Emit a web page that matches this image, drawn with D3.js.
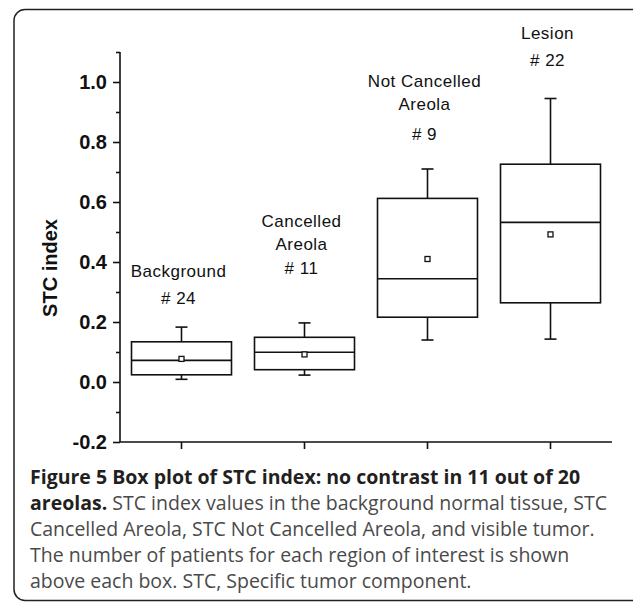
<!DOCTYPE html>
<html>
<head>
<meta charset="utf-8">
<script src="https://cdn.jsdelivr.net/npm/d3@7"></script>
<style>
  body { margin: 0; background: #fff; }
  svg { display: block; }
</style>
</head>
<body>
<div id="chart"></div>
<script>
// data
var categories = ["Background", "Cancelled Areola", "Not Cancelled Areola", "Lesion"];
var groupLabels = [["Background", "# 24"], ["Cancelled", "Areola", "# 11"], ["Not Cancelled", "Areola", "# 9"], ["Lesion", "# 22"]];
var whiskerLow = [0.009, 0.023, 0.140, 0.143];
var q1 = [0.024, 0.041, 0.216, 0.264];
var median = [0.072, 0.099, 0.344, 0.532];
var q3 = [0.134, 0.149, 0.612, 0.726];
var whiskerHigh = [0.183, 0.197, 0.710, 0.945];
var means = [0.077, 0.092, 0.410, 0.492];
var yMajorTicks = [-0.2, 0.0, 0.2, 0.4, 0.6, 0.8, 1.0];
var yMinorTicks = [-0.1, 0.1, 0.3, 0.5, 0.7, 0.9, 1.1];

var width = 633;
var height = 602;

var boxes = categories.map(function(c, i) {
    return {cat: c, lo: whiskerLow[i], q1: q1[i], med: median[i], q3: q3[i], hi: whiskerHigh[i], mean: means[i], label: groupLabels[i]};
});

var svg = d3.select("#chart")
            .append("svg")
            .attr("width", width)
            .attr("height", height);

// rounded frame round the figure
svg.append("rect")
    .attr("x", 14)
    .attr("y", 9.5)
    .attr("width", 660)
    .attr("height", 591)
    .attr("rx", 11)
    .attr("fill", "none")
    .attr("stroke", "#222")
    .attr("stroke-width", 1.5);

var x = d3.scaleBand()
        .domain(categories)
        .range([120, 612])
        .padding(0);

var y = d3.scaleLinear()
        .domain([-0.2, 1.1])
        .range([442, 52]);

var boxW = 100;
var capW = 12;

// y axis, major ticks with labels
svg.append("g")
    .attr("transform", "translate(120,0)")
    .call(d3.axisLeft(y).tickValues(yMajorTicks).tickFormat(d => d.toFixed(1)).tickSize(7).tickPadding(6))
    .call(g => g.select(".domain").attr("d", "M0," + y(1.1) + "V" + y(-0.2)))
    .call(g => g.selectAll("line, path").attr("stroke", "#111").attr("stroke-width", 1.6))
    .call(g => g.selectAll("text")
        .style("font-family", "'Liberation Sans', Arial, sans-serif")
        .style("font-size", "20px")
        .style("font-weight", "bold")
        .attr("fill", "#111"));

// minor ticks
svg.append("g")
    .attr("transform", "translate(120,0)")
    .call(d3.axisLeft(y).tickValues(yMinorTicks).tickFormat("").tickSize(4))
    .call(g => g.select(".domain").remove())
    .call(g => g.selectAll("line").attr("stroke", "#111").attr("stroke-width", 1.6));

// x axis, ticks below, no labels
svg.append("g")
    .attr("transform", "translate(0," + y(-0.2) + ")")
    .call(d3.axisBottom(x).tickFormat("").tickSize(7))
    .call(g => g.select(".domain").attr("d", "M120,0H612"))
    .call(g => g.selectAll("line, path").attr("stroke", "#111").attr("stroke-width", 1.6));

svg.append("text")
    .text("STC index")
    .attr("transform", "translate(57," + y(0.38) + ") rotate(-90)")
    .attr("text-anchor", "middle")
    .style("font-family", "'Liberation Sans', Arial, sans-serif")
    .style("font-size", "20px")
    .style("font-weight", "bold")
    .attr("fill", "#111");

var g = svg.selectAll(".box")
        .data(boxes)
        .enter()
        .append("g")
        .attr("class", "box")
        .attr("transform", d => "translate(" + (x(d.cat) + x.bandwidth() / 2) + ",0)");

g.append("line")
    .attr("x1", 0).attr("x2", 0)
    .attr("y1", d => y(d.hi)).attr("y2", d => y(d.q3))
    .attr("stroke", "#111").attr("stroke-width", 1.6);
g.append("line")
    .attr("x1", 0).attr("x2", 0)
    .attr("y1", d => y(d.q1)).attr("y2", d => y(d.lo))
    .attr("stroke", "#111").attr("stroke-width", 1.6);
g.append("line")
    .attr("x1", -capW / 2).attr("x2", capW / 2)
    .attr("y1", d => y(d.hi)).attr("y2", d => y(d.hi))
    .attr("stroke", "#111").attr("stroke-width", 1.6);
g.append("line")
    .attr("x1", -capW / 2).attr("x2", capW / 2)
    .attr("y1", d => y(d.lo)).attr("y2", d => y(d.lo))
    .attr("stroke", "#111").attr("stroke-width", 1.6);

g.append("rect")
    .attr("x", -boxW / 2)
    .attr("width", boxW)
    .attr("y", d => y(d.q3))
    .attr("height", d => y(d.q1) - y(d.q3))
    .attr("fill", "white")
    .attr("stroke", "#111")
    .attr("stroke-width", 1.6);

g.append("line")
    .attr("x1", -boxW / 2).attr("x2", boxW / 2)
    .attr("y1", d => y(d.med)).attr("y2", d => y(d.med))
    .attr("stroke", "#111").attr("stroke-width", 1.6);

// mean marker
g.append("rect")
    .attr("x", -2.5)
    .attr("y", d => y(d.mean) - 2.5)
    .attr("width", 5)
    .attr("height", 5)
    .attr("fill", "white")
    .attr("stroke", "#111")
    .attr("stroke-width", 1.3);

// group labels stacked above each box
var labelBase = [277, 227, 87, 39];
var labelStep = [[0, 27], [0, 23, 47], [0, 23, 53], [0, 27]];
g.each(function(d, i) {
    var sel = d3.select(this);
    d.label.forEach(function(t, j) {
        sel.append("text")
            .text(t)
            .attr("x", -3)
            .attr("y", labelBase[i] + labelStep[i][j])
            .attr("text-anchor", "middle")
            .style("font-family", "'Liberation Sans', Arial, sans-serif")
            .style("font-size", "17px")
            .style("letter-spacing", "0.5px")
            .attr("fill", "#111");
    });
});

// caption
var captionLines = [
    [["Figure 5 Box plot of STC index: no contrast in 11 out of 20", true]],
    [["areolas.", true], [" STC index values in the background normal tissue, STC", false]],
    [["Cancelled Areola, STC Not Cancelled Areola, and visible tumor.", false]],
    [["The number of patients for each region of interest is shown", false]],
    [["above each box. STC, Specific tumor component.", false]]
];
var cap = svg.append("text")
    .style("font-family", "'Open Sans', 'Noto Sans', sans-serif")
    .style("font-size", "19.5px");
captionLines.forEach(function(line, i) {
    line.forEach(function(part, j) {
        var ts = cap.append("tspan")
            .text(part[0])
            .attr("fill", part[1] ? "#231f20" : "#4a4a4a")
            .style("font-weight", part[1] ? "bold" : "normal");
        if (j == 0) ts.attr("x", 30).attr("y", 484 + i * 26);
    });
});
</script>
</body>
</html>
